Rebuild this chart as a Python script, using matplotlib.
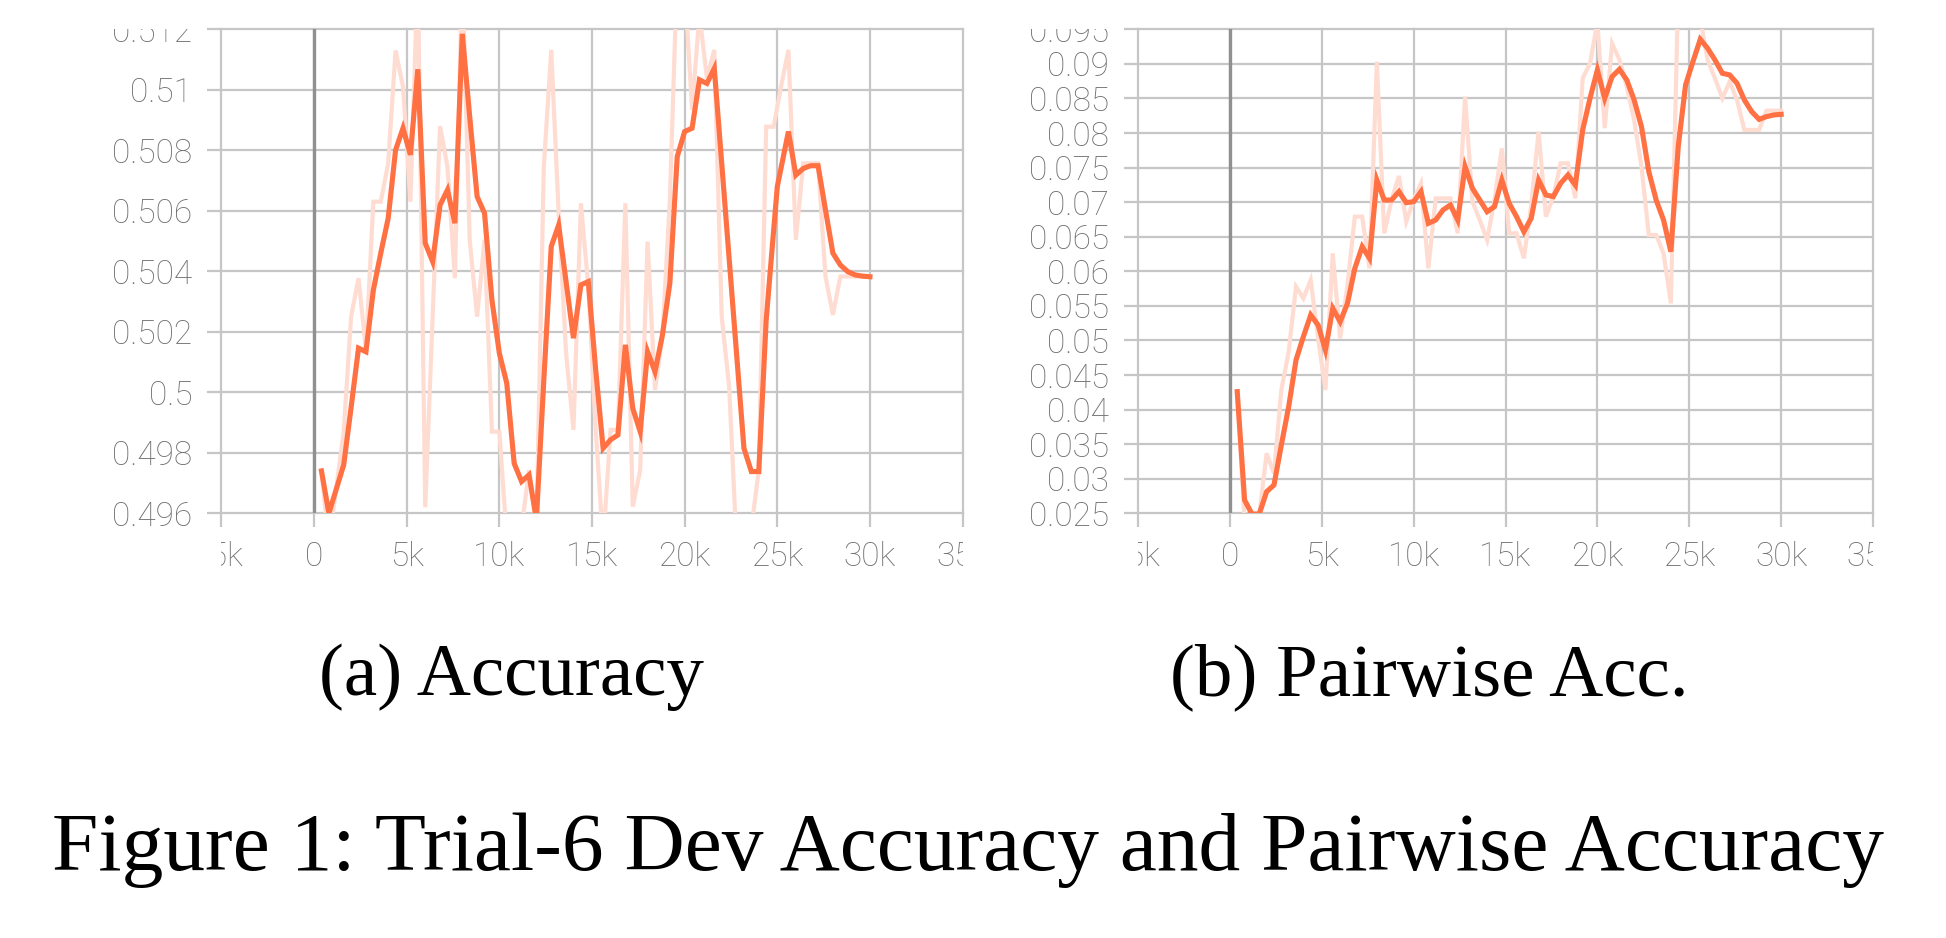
import numpy as np
import matplotlib
matplotlib.use("Agg")
import matplotlib.pyplot as plt
from matplotlib.transforms import Bbox, TransformedBbox

# ---- data ----
acc_smooth_x = [400, 800, 1200, 1600, 2000, 2400, 2800, 3200, 3600, 4000, 4400, 4800, 5200, 5600,
                6000, 6400, 6800, 7200, 7600, 8000, 8400, 8800, 9200, 9600, 10000, 10400, 10800,
                11200, 11600, 12000, 12400, 12800, 13200, 13600, 14000, 14400, 14800, 15200, 15600,
                16000, 16400, 16800, 17200, 17600, 18000, 18400, 18800, 19200, 19600, 20000, 20400,
                20800, 21200, 21600, 23200, 23600, 24000, 24400, 25000, 25600, 26000, 26400, 26800,
                27200, 27600, 28000, 28400, 28800, 29200, 29600, 30000]
acc_smooth_y = [0.4974, 0.4960, 0.4968, 0.4976, 0.4995, 0.50146, 0.50134, 0.50338, 0.5046, 0.50575,
                0.50801, 0.50873, 0.50785, 0.51068, 0.50493, 0.50432, 0.50619, 0.50669, 0.50559,
                0.51185, 0.50911, 0.50647, 0.50592, 0.50305, 0.50129, 0.50030, 0.49765, 0.49705,
                0.49727, 0.4958, 0.50041, 0.50482, 0.50553, 0.50366, 0.50179, 0.50355, 0.50366,
                0.50074, 0.49815, 0.49843, 0.49859, 0.50157, 0.49947, 0.4987, 0.50134, 0.50068,
                0.50189, 0.5036, 0.50779, 0.50862, 0.50873, 0.51033, 0.51021, 0.51071, 0.49815,
                0.49738, 0.49738, 0.50239, 0.5068, 0.50862, 0.50718, 0.50740, 0.50749, 0.50749,
                0.50603, 0.5046, 0.50421, 0.50399, 0.50388, 0.50384, 0.50382]

acc_raw_x = [400, 800, 1600, 2000, 2400, 2800, 3200, 3600, 4000, 4400, 4800, 5200, 5600, 6000,
             6800, 7200, 7600, 8000, 8400, 8800, 9200, 9600, 10000, 10400, 10800, 11200, 11600,
             12000, 12400, 12800, 13200, 13600, 14000, 14400, 14800, 15200, 15600, 16000, 16400,
             16800, 17200, 17600, 18000, 18400, 18800, 19200, 19600, 20000, 20400, 20800, 21200,
             21600, 22000, 22400, 22800, 23200, 23600, 24000, 24400, 24800, 25200, 25600, 26000,
             26400, 26800, 27200, 27600, 28000, 28400, 28800, 29200, 29600, 30000]
acc_raw_y = [0.4974, 0.4950, 0.4987, 0.5025, 0.50377, 0.5014, 0.5063, 0.5063, 0.50757, 0.5113,
             0.5101, 0.5063, 0.5140, 0.4962, 0.5088, 0.50746, 0.50377, 0.5140, 0.50504, 0.5025,
             0.50504, 0.4987, 0.4987, 0.4952, 0.4950, 0.4955, 0.49743, 0.4955, 0.50746, 0.51132,
             0.50592, 0.50129, 0.49876, 0.50625, 0.5035, 0.49876, 0.4950, 0.49876, 0.49876,
             0.50625, 0.49622, 0.49743, 0.50498, 0.50008, 0.50184, 0.50636, 0.5140, 0.5135,
             0.50934, 0.5125, 0.51038, 0.51132, 0.5025, 0.50019, 0.4950, 0.4945, 0.4955, 0.49743,
             0.50878, 0.50878, 0.5101, 0.51132, 0.50504, 0.50757, 0.50757, 0.50757, 0.50383,
             0.50256, 0.50383, 0.50383, 0.50383, 0.50383, 0.50383]

pair_x = [400, 800, 1200, 1600, 2000, 2400, 2800, 3200, 3600, 4000, 4400, 4800, 5200, 5600, 6000,
          6400, 6800, 7200, 7600, 8000, 8400, 8800, 9200, 9600, 10000, 10400, 10800, 11200, 11600,
          12000, 12400, 12800, 13200, 13600, 14000, 14400, 14800, 15200, 15600, 16000, 16400,
          16800, 17200, 17600, 18000, 18400, 18800, 19200, 19600, 20000, 20400, 20800, 21200,
          21600, 22000, 22400, 22800, 23200, 23600, 24000, 24400, 24800, 25200, 25600, 26000,
          26400, 26800, 27200, 27600, 28000, 28400, 28800, 29200, 29600, 30000]
pair_smooth_y = [0.04259, 0.02692, 0.0249, 0.0249, 0.02813, 0.02909, 0.03487, 0.04042, 0.04717,
                 0.05055, 0.05368, 0.05223, 0.04862, 0.05464, 0.05271, 0.05536, 0.06043, 0.06356,
                 0.06187, 0.0732, 0.07031, 0.07031, 0.07152, 0.06993, 0.07007, 0.07152, 0.06694,
                 0.06742, 0.06887, 0.06959, 0.06742, 0.07513, 0.07200, 0.07031, 0.06862, 0.06935,
                 0.0732, 0.06983, 0.0679, 0.06573, 0.06766, 0.0732, 0.07104, 0.0708, 0.07272,
                 0.07393, 0.07248, 0.08044, 0.08502, 0.08912, 0.08502, 0.08815, 0.08921, 0.08767,
                 0.08478, 0.08092, 0.07441, 0.07031, 0.06742, 0.06284, 0.07803, 0.08695, 0.09032,
                 0.09355, 0.09225, 0.09056, 0.08864, 0.0884, 0.08719, 0.08478, 0.08309, 0.08198,
                 0.08237, 0.08261, 0.0827]
pair_raw_y = [0.0426, 0.0240, 0.0240, 0.0248, 0.03367, 0.03078, 0.04283, 0.04838, 0.05778, 0.05609,
              0.05874, 0.0503, 0.04283, 0.0626, 0.0503, 0.05802, 0.0679, 0.0679, 0.06043, 0.09032,
              0.06549, 0.07031, 0.07379, 0.06718, 0.07031, 0.07272, 0.06043, 0.07055, 0.07055,
              0.07055, 0.0655, 0.08526, 0.07007, 0.06742, 0.06453, 0.07031, 0.07779, 0.0655,
              0.0655, 0.06188, 0.06959, 0.0802, 0.0679, 0.0708, 0.07562, 0.07562, 0.07055,
              0.08791, 0.09008, 0.0960, 0.0807, 0.09297, 0.0906, 0.0867, 0.08188, 0.07513,
              0.06525, 0.06525, 0.0626, 0.05536, 0.1010, 0.1000, 0.0965, 0.0965, 0.09056, 0.0879,
              0.08502, 0.08743, 0.08478, 0.08044, 0.08044, 0.08044, 0.08323, 0.08323, 0.08323]

x_ticks = [-5000, 0, 5000, 10000, 15000, 20000, 25000, 30000, 35000]
x_labels = ["-5k", "0", "5k", "10k", "15k", "20k", "25k", "30k", "35k"]
acc_ticks = [0.496, 0.498, 0.5, 0.502, 0.504, 0.506, 0.508, 0.51, 0.512]
acc_labels = ["0.496", "0.498", "0.5", "0.502", "0.504", "0.506", "0.508", "0.51", "0.512"]
pair_ticks = [0.025, 0.03, 0.035, 0.04, 0.045, 0.05, 0.055, 0.06, 0.065, 0.07, 0.075, 0.08,
              0.085, 0.09, 0.095]
pair_labels = ["0.025", "0.03", "0.035", "0.04", "0.045", "0.05", "0.055", "0.06", "0.065",
               "0.07", "0.075", "0.08", "0.085", "0.09", "0.095"]

ORANGE = "#ff7043"
RAW = "#ffdcd2"
GRID = "#c6c6c6"
TICKTXT = "#6e6e6e"

fig = plt.figure(figsize=(19.46, 9.38), dpi=100)
W, H = 1946, 938


def panel(rect, raw_x, raw_y, sm_x, sm_y, yticks, ylabels):
    ax = fig.add_axes(rect)
    ax.plot(raw_x, raw_y, color=RAW, lw=3.0, solid_joinstyle="miter", zorder=3)
    ax.plot(sm_x, sm_y, color=ORANGE, lw=3.7, solid_joinstyle="miter", zorder=4)
    ax.set_xlim(-5000, 35000)
    ax.set_ylim(yticks[0], yticks[-1])
    ax.set_xticks(x_ticks)
    ax.set_xticklabels(x_labels)
    ax.set_yticks(yticks)
    ax.set_yticklabels(ylabels)
    for s in ax.spines.values():
        s.set_visible(False)
    ax.grid(True, color=GRID, lw=1.6)
    for gl in ax.get_xgridlines() + ax.get_ygridlines():
        gl.set_clip_on(False)
    ax.axvline(0, color="#909090", lw=2.4, zorder=2)
    ax.set_axisbelow(True)
    ax.tick_params(axis="both", length=10, width=1.6, color=GRID, labelcolor=TICKTXT,
                   labelsize=24)
    ax.tick_params(axis="x", pad=10)
    ax.tick_params(axis="y", pad=11)
    for lab in ax.get_xticklabels() + ax.get_yticklabels():
        lab.set_fontfamily("Roboto")
        lab.set_fontweight("light")
    return ax


ax1 = panel([221.4 / W, 1 - 513.3 / H, (962.6 - 221.4) / W, (513.3 - 29.3) / H],
            acc_raw_x, acc_raw_y, acc_smooth_x, acc_smooth_y, acc_ticks, acc_labels)
ax2 = panel([1138 / W, 1 - 513.3 / H, (1873 - 1138) / W, (513.3 - 29.3) / H],
            pair_x, pair_raw_y, pair_x, pair_smooth_y, pair_ticks, pair_labels)

# screenshot crop: labels cut at the top of the plot and at its left/right edges
fig.canvas.draw()
for ax in (ax1, ax2):
    p = ax.get_position()
    ybox = TransformedBbox(Bbox([[0, 0], [1, p.y1]]), fig.transFigure)
    xbox = TransformedBbox(Bbox([[p.x0, 0], [p.x1, 1]]), fig.transFigure)
    for lab in ax.get_yticklabels():
        lab.set_clip_box(ybox)
        lab.set_clip_on(True)
    for lab in ax.get_xticklabels():
        lab.set_clip_box(xbox)
        lab.set_clip_on(True)

serif = ["Liberation Serif", "DejaVu Serif"]
fig.text(511 / W, 1 - 695 / H, "(a) Accuracy", ha="center", va="baseline",
         family=serif, size=54)
fig.text(1429 / W, 1 - 695 / H, "(b) Pairwise Acc.", ha="center", va="baseline",
         family=serif, size=54)
fig.text(968 / W, 1 - 870 / H, "Figure 1: Trial-6 Dev Accuracy and Pairwise Accuracy",
         ha="center", va="baseline", family=serif, size=60)

fig.savefig("out.png", dpi=100, facecolor="white")
